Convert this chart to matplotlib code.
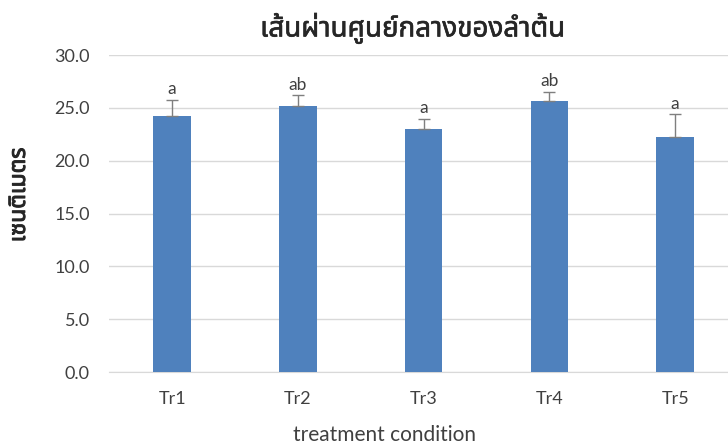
import numpy as np
import matplotlib
matplotlib.use("Agg")
import matplotlib.pyplot as plt
import matplotlib.patheffects as pe

# stem diameter per treatment (cm), upper error and letter groups
treatments = ["Tr1", "Tr2", "Tr3", "Tr4", "Tr5"]
diameter = [24.2, 25.2, 23.0, 25.7, 22.3]
err = [1.6, 1.0, 1.0, 0.8, 2.1]
groups = ["a", "ab", "a", "ab", "a"]

thai = ["Noto Sans Thai", "Noto Sans"]
latin = ["Lato", "DejaVu Sans"]
bar_col = "#4f81bd"
grid_col = "#d9d9d9"
txt_col = "#404040"
head_col = "#262626"

fig = plt.figure(figsize=(7.28, 4.45), dpi=100)
ax = fig.add_axes([0.15, 0.164, 0.85, 0.712])

x = np.arange(len(treatments))
ax.bar(x, diameter, width=0.3, color=bar_col, zorder=3)
ax.errorbar(x, diameter, yerr=[np.zeros(len(err)), err], fmt="none",
            ecolor="#7f7f7f", elinewidth=1, capsize=4, capthick=1, zorder=4)

for xi, d, e, g in zip(x, diameter, err, groups):
    ax.annotate(g, (xi, d + e), xytext=(0, 2), textcoords="offset points",
                ha="center", va="bottom", fontsize=12.5, color=txt_col, family=latin)

ax.set_xlim(-0.5, 4.42)
ax.set_ylim(0, 30)
ax.set_yticks(np.arange(0, 31, 5))
ax.set_yticklabels([f"{v:.1f}" for v in np.arange(0, 31, 5)])
ax.set_xticks(x)
ax.set_xticklabels(treatments)
ax.yaxis.grid(True, color=grid_col, linewidth=1, zorder=0)
ax.set_axisbelow(True)
for s in ["left", "right", "top"]:
    ax.spines[s].set_visible(False)
ax.spines["bottom"].set_color(grid_col)
ax.tick_params(axis="both", length=0, labelsize=13, labelcolor=txt_col)
ax.tick_params(axis="x", pad=14)
ax.tick_params(axis="y", pad=14)
for lab in ax.get_xticklabels() + ax.get_yticklabels():
    lab.set_family(latin)

fig.text(0.5275, 0.0225, "treatment condition", ha="center", va="center",
         fontsize=15, color=txt_col, family=latin)

# thai font has no bold face here, thicken with a thin stroke
fig.text(0.567, 0.936, "เส้นผ่านศูนย์กลางของลำต้น", ha="center", va="center",
         fontsize=20, color=head_col, family=thai,
         path_effects=[pe.withStroke(linewidth=0.45, foreground=head_col)])
fig.text(0.026, 0.562, "เซนติเมตร", rotation=90, ha="center", va="center",
         fontsize=16.5, color=head_col, family=thai,
         path_effects=[pe.withStroke(linewidth=0.7, foreground=head_col)])

fig.savefig("out.png", dpi=100)
